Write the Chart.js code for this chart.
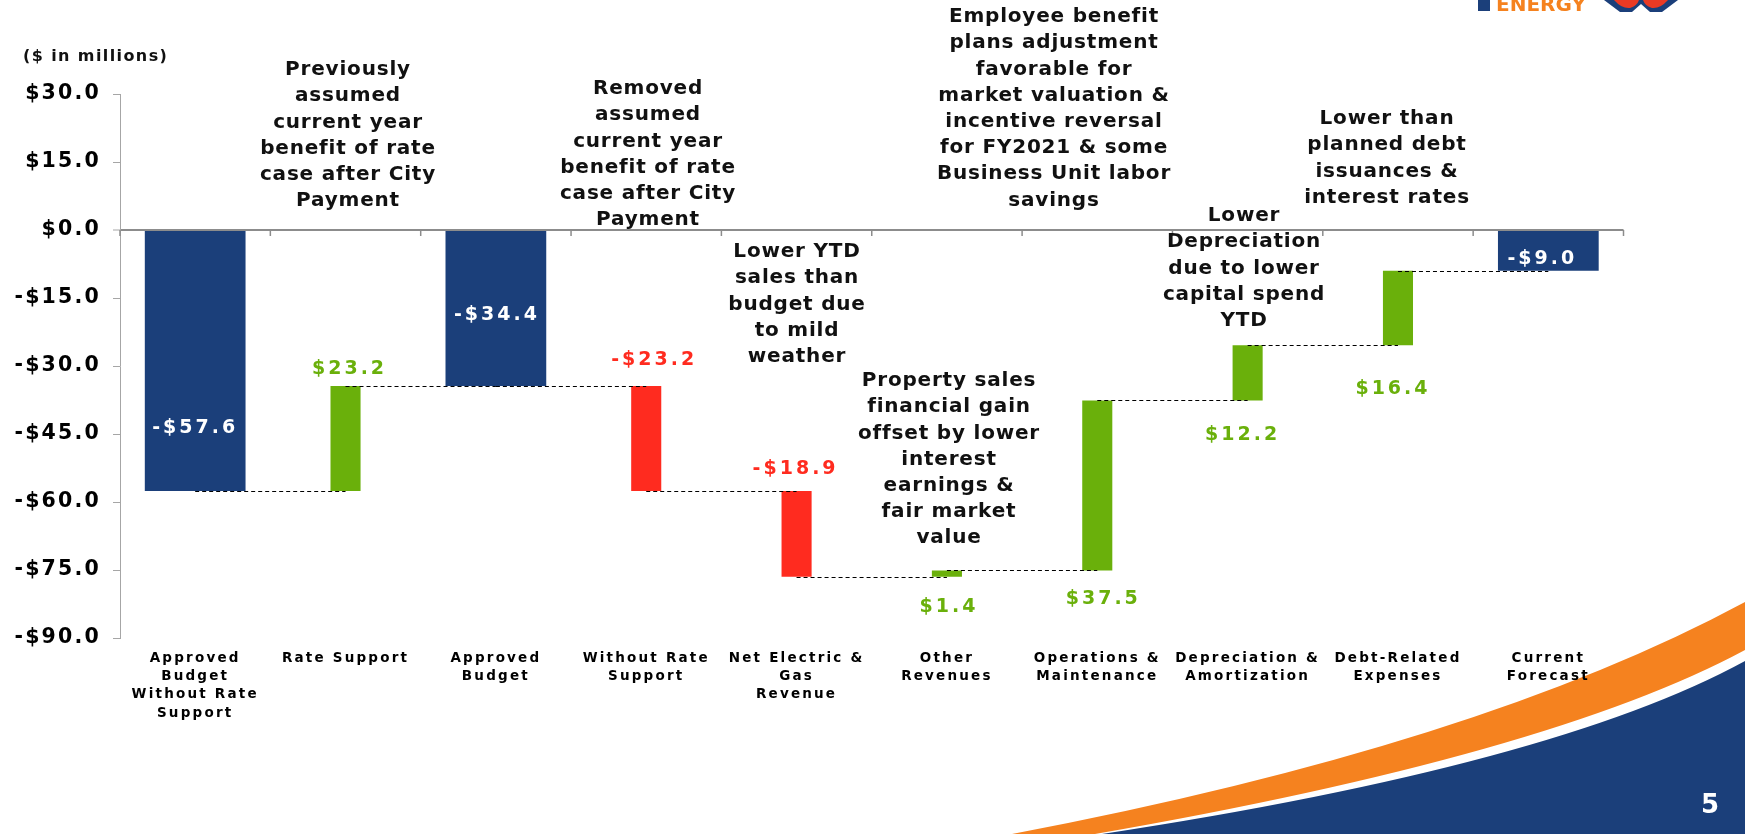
<!DOCTYPE html>
<html>
<head>
<meta charset="utf-8">
<title>Budget variance waterfall</title>
<script src="https://cdn.jsdelivr.net/npm/chart.js@4.4.1/dist/chart.umd.min.js"></script>
<style>
  html, body { margin: 0; padding: 0; background: #fff; overflow: hidden; }
  canvas { display: block; }
</style>
</head>
<body>
<canvas id="chart" width="1745" height="834"></canvas>
<script>
// chart data
const categories = [
  ['Approved', 'Budget', 'Without Rate', 'Support'],
  'Rate Support',
  ['Approved', 'Budget'],
  ['Without Rate', 'Support'],
  ['Net Electric &', 'Gas', 'Revenue'],
  ['Other', 'Revenues'],
  ['Operations &', 'Maintenance'],
  ['Depreciation &', 'Amortization'],
  ['Debt-Related', 'Expenses'],
  ['Current', 'Forecast']
];
const amounts = [-57.6, 23.2, -34.4, -23.2, -18.9, 1.4, 37.5, 12.2, 16.4, -9.0];
const isTotal = [true, false, true, false, false, false, false, false, false, true];
const yRange = [-90, 30, 15];   // min, max, step

const notes = [
  ['Previously', 'assumed', 'current year', 'benefit of rate', 'case after City', 'Payment'],
  ['Removed', 'assumed', 'current year', 'benefit of rate', 'case after City', 'Payment'],
  ['Lower YTD', 'sales than', 'budget due', 'to mild', 'weather'],
  ['Property sales', 'financial gain', 'offset by lower', 'interest', 'earnings &', 'fair market', 'value'],
  ['Employee benefit', 'plans adjustment', 'favorable for', 'market valuation &', 'incentive reversal', 'for FY2021 & some', 'Business Unit labor', 'savings'],
  ['Lower', 'Depreciation', 'due to lower', 'capital spend', 'YTD'],
  ['Lower than', 'planned debt', 'issuances &', 'interest rates']
];

// styling / placement
const FONT = "'DejaVu Sans', Verdana, sans-serif";
const BLUE = '#1B3F7A', GREEN = '#6AB00B', RED = '#FF2B1F', ORANGE = '#F5821F';
// where each value label sits: anchored on bar top ('t') or bottom ('b'), pixel shift
const labelAnchor = ['b', 't', 'b', 't', 't', 'b', 'b', 'b', 'b', 'b'];
const labelDy = [-63, -17, -71, -26, -22, 30, 29, 35, 44, -12];
const labelDx = [0, 4, 1, 8, -1, 2, 6, -5, -5, -6];
// note block positions (centre x, first line y)
const notePos = [[348, 70], [648, 89], [797, 252], [949, 381], [1054, 17], [1244, 216], [1387, 119]];

// build floating bars from the running total
let run = 0;
const totalBars = [], stepBars = [], levels = [];
amounts.forEach((v, i) => {
  if (isTotal[i]) {
    totalBars.push([0, v]); stepBars.push(null); run = v;
  } else {
    totalBars.push(null); stepBars.push([run, run + v]); run = Math.round((run + v) * 10) / 10;
  }
  levels.push(run);
});

function money(v) {
  return (v < 0 ? '-' : '') + '$' + Math.abs(v).toFixed(1);
}

const slide = {
  id: 'slide',
  beforeDraw(chart) {
    const ctx = chart.ctx;
    ctx.save();
    ctx.fillStyle = '#fff';
    ctx.fillRect(0, 0, chart.width, chart.height);

    // bottom-right swoosh
    ctx.fillStyle = ORANGE;
    ctx.beginPath();
    ctx.moveTo(1012, 834);
    ctx.quadraticCurveTo(1480, 745, 1745, 602);
    ctx.lineTo(1745, 650);
    ctx.quadraticCurveTo(1550, 755, 1095, 834);
    ctx.closePath();
    ctx.fill();
    ctx.fillStyle = BLUE;
    ctx.beginPath();
    ctx.moveTo(1102, 834);
    ctx.quadraticCurveTo(1555, 765, 1745, 661);
    ctx.lineTo(1745, 834);
    ctx.closePath();
    ctx.fill();

    // logo, cut by the top edge
    ctx.fillRect(1478, 0, 12, 11);
    ctx.fillStyle = ORANGE;
    ctx.font = 'bold 20px ' + FONT;
    ctx.textAlign = 'left';
    ctx.textBaseline = 'alphabetic';
    ctx.fillText('ENERGY', 1496, 11);
    ctx.fillStyle = BLUE;
    ctx.beginPath();
    ctx.moveTo(1604, 0);
    ctx.lineTo(1620, 12);
    ctx.lineTo(1632, 12);
    ctx.lineTo(1641, 4);
    ctx.lineTo(1650, 12);
    ctx.lineTo(1662, 12);
    ctx.lineTo(1678, 0);
    ctx.closePath();
    ctx.fill();
    ctx.fillStyle = '#EA3A24';
    ctx.beginPath();
    ctx.moveTo(1614, 0);
    ctx.quadraticCurveTo(1622, 9, 1630, 8);
    ctx.quadraticCurveTo(1637, 6, 1639, 0);
    ctx.closePath();
    ctx.fill();
    ctx.beginPath();
    ctx.moveTo(1643, 0);
    ctx.quadraticCurveTo(1645, 6, 1652, 8);
    ctx.quadraticCurveTo(1660, 9, 1668, 0);
    ctx.closePath();
    ctx.fill();

    // page number
    ctx.fillStyle = '#fff';
    ctx.font = 'bold 26px ' + FONT;
    ctx.textAlign = 'center';
    ctx.textBaseline = 'middle';
    ctx.fillText('5', 1710, 806);
    ctx.restore();

    // wide tick lettering like the slide
    ctx.letterSpacing = '2.2px';
  },
  afterDatasetsDraw(chart) {
    const ctx = chart.ctx;
    const xs = chart.scales.x, ys = chart.scales.y;
    const step = xs.getPixelForValue(1) - xs.getPixelForValue(0);
    const y0 = ys.getPixelForValue(0);
    ctx.save();
    // category tick marks on the zero line
    ctx.strokeStyle = '#8c8c8c';
    ctx.lineWidth = 1.5;
    for (let i = 0; i <= categories.length; i++) {
      const x = xs.getPixelForValue(0) - step / 2 + i * step;
      ctx.beginPath();
      ctx.moveTo(x, y0);
      ctx.lineTo(x, y0 + 6);
      ctx.stroke();
    }
    // connectors from bar centre to next bar centre
    ctx.strokeStyle = '#000';
    ctx.lineWidth = 1;
    ctx.setLineDash([4, 3]);
    for (let i = 0; i < levels.length - 1; i++) {
      const y = Math.round(ys.getPixelForValue(levels[i])) + 0.5;
      ctx.beginPath();
      ctx.moveTo(xs.getPixelForValue(i), y);
      ctx.lineTo(xs.getPixelForValue(i + 1), y);
      ctx.stroke();
    }
    ctx.restore();
  },
  afterDraw(chart) {
    const ctx = chart.ctx;
    const xs = chart.scales.x, ys = chart.scales.y;
    ctx.save();
    ctx.textAlign = 'center';
    ctx.textBaseline = 'middle';

    // value labels
    ctx.font = 'bold 19px ' + FONT;
    ctx.letterSpacing = '3px';
    amounts.forEach((v, i) => {
      const r = isTotal[i] ? totalBars[i] : stepBars[i];
      const a = ys.getPixelForValue(r[0]), b = ys.getPixelForValue(r[1]);
      const top = Math.min(a, b), bottom = Math.max(a, b);
      const y = (labelAnchor[i] === 't' ? top : bottom) + labelDy[i];
      ctx.fillStyle = isTotal[i] ? '#fff' : (v >= 0 ? GREEN : RED);
      ctx.fillText(money(v), xs.getPixelForValue(i) + labelDx[i], y);
    });

    // explanation notes
    ctx.font = 'bold 20px ' + FONT;
    ctx.letterSpacing = '0.8px';
    ctx.fillStyle = '#111';
    notes.forEach((lines, k) => {
      lines.forEach((line, j) => {
        ctx.fillText(line, notePos[k][0], notePos[k][1] + j * 26.2);
      });
    });

    // units
    ctx.font = 'bold 16px ' + FONT;
    ctx.letterSpacing = '1.4px';
    ctx.textAlign = 'left';
    ctx.fillText('($ in millions)', 23, 57);
    ctx.restore();
  }
};

new Chart(document.getElementById('chart'), {
  type: 'bar',
  data: {
    labels: categories,
    datasets: [
      {
        label: 'Totals',
        data: totalBars,
        backgroundColor: BLUE,
        barPercentage: 0.67,
        categoryPercentage: 1,
        grouped: false
      },
      {
        label: 'Changes',
        data: stepBars,
        backgroundColor: c => (amounts[c.dataIndex] >= 0 ? GREEN : RED),
        barPercentage: 0.2,
        categoryPercentage: 1,
        grouped: false
      }
    ]
  },
  options: {
    responsive: false,
    animation: false,
    devicePixelRatio: 1,
    layout: { padding: { top: 94, right: 121.5, bottom: 0, left: 0 } },
    plugins: {
      legend: { display: false },
      tooltip: { enabled: false }
    },
    scales: {
      x: {
        grid: { display: false, drawTicks: false },
        border: { display: false },
        ticks: {
          color: '#000',
          padding: 11,
          maxRotation: 0,
          minRotation: 0,
          autoSkip: false,
          font: { family: FONT, size: 13.5, weight: 'bold', lineHeight: 1.36 }
        },
        afterFit(s) { s.height = 196; }
      },
      y: {
        min: yRange[0],
        max: yRange[1],
        border: { display: true, color: '#a6a6a6', width: 1 },
        grid: {
          color: c => (c.tick && c.tick.value === 0 ? '#8c8c8c' : 'rgba(0,0,0,0)'),
          lineWidth: c => (c.tick && c.tick.value === 0 ? 2 : 1),
          tickColor: '#a6a6a6',
          tickLength: 7,
          tickWidth: 1
        },
        ticks: {
          stepSize: yRange[2],
          color: '#000',
          padding: 12,
          font: { family: FONT, size: 20.5, weight: 'bold' },
          callback: v => money(v)
        },
        afterFit(s) { s.width = 120; }
      }
    }
  },
  plugins: [slide]
});
</script>
</body>
</html>
